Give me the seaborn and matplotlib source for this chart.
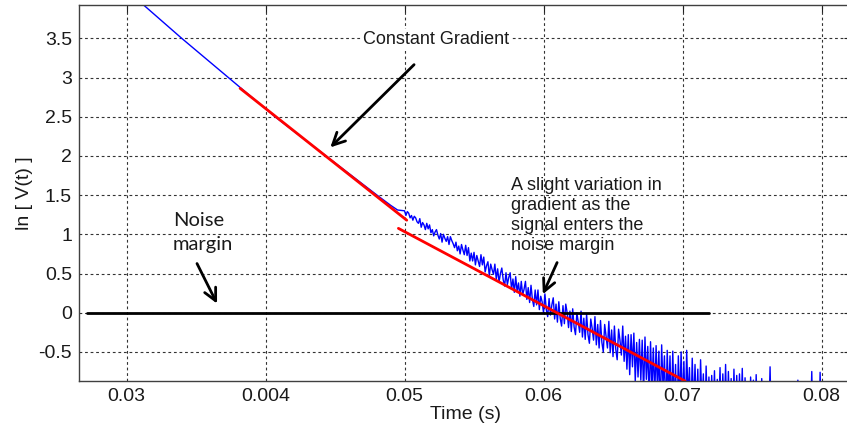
import numpy as np
import pandas as pd
import matplotlib
matplotlib.use("Agg")
import matplotlib.pyplot as plt
import seaborn as sns

# ---------------- data ----------------
# clean part of the measured trace (ln|V|)
clean_t = [0.03100, 0.03397, 0.03732, 0.04068, 0.04435, 0.04802, 0.04900, 0.04950]
clean_y = [3.96, 3.50, 3.00, 2.50, 2.00, 1.50, 1.37, 1.31]

# noisy part, sampled every 0.1 ms from 0.0500 s (one row = 1 ms)
noisy_start = 0.0500
noisy_step = 0.0001
noisy_y = [
    1.30, 1.24, 1.29, 1.27, 1.21, 1.24, 1.18, 1.23, 1.21, 1.16,
    1.14, 1.20, 1.09, 1.15, 1.12, 1.06, 1.14, 1.07, 1.12, 1.02,
    1.06, 0.98, 1.03, 1.06, 0.99, 0.94, 1.01, 0.90, 1.00, 0.95,
    0.91, 0.97, 0.87, 0.97, 0.92, 0.88, 0.83, 0.90, 0.79, 0.85,
    0.75, 0.87, 0.80, 0.74, 0.86, 0.73, 0.83, 0.66, 0.76, 0.66,
    0.77, 0.61, 0.73, 0.66, 0.59, 0.74, 0.61, 0.71, 0.52, 0.60,
    0.65, 0.47, 0.62, 0.55, 0.49, 0.62, 0.43, 0.56, 0.39, 0.50,
    0.57, 0.42, 0.34, 0.51, 0.36, 0.45, 0.51, 0.30, 0.43, 0.26,
    0.46, 0.27, 0.38, 0.21, 0.40, 0.23, 0.30, 0.40, 0.17, 0.32,
    0.13, 0.35, 0.17, 0.08, 0.29, 0.10, 0.29, 0.04, 0.21, 0.14,
    0.00, 0.24, 0.04, -0.05, 0.18, -0.03, 0.10, 0.19, -0.08, 0.11,
    -0.12, 0.14, -0.07, -0.17, 0.09, -0.14, 0.11, 0.00, -0.19, 0.02,
    -0.24, 0.05, -0.18, -0.28, 0.00, -0.12, -0.25, 0.02, -0.31, -0.07,
    -0.34, -0.02, -0.28, -0.39, -0.08, -0.20, -0.35, -0.05, -0.41, -0.15,
    -0.45, -0.10, -0.38, -0.50, -0.15, -0.30, -0.45, -0.11, -0.51, -0.22,
    -0.56, -0.17, -0.47, -0.60, -0.21, -0.35, -0.54, -0.17, -0.62, -0.30,
    -0.72, -0.28, -0.79, -0.28, -0.69, -0.26, -0.87, -0.38, -0.82, -0.34,
    -0.86, -0.35, -1.03, -0.31, -0.85, -0.43, -1.12, -0.37, -0.99, -0.45,
    -1.06, -0.42, -0.98, -0.49, -1.25, -0.41, -0.97, -0.55, -1.34, -0.48,
    -1.11, -0.55, -1.28, -0.49, -1.20, -0.66, -1.47, -0.55, -1.14, -0.50,
    -1.20, -0.62, -1.35, -0.48, -1.10, -0.70, -1.40, -0.58, -1.25, -0.66,
    -1.30, -0.72, -1.45, -0.60, -1.20, -0.78, -1.50, -0.68, -1.35, -0.82,
    -1.40, -0.80, -1.30, -0.74, -1.55, -0.85, -1.25, -0.70, -1.45, -0.78,
    -1.35, -0.66, -1.50, -0.75, -1.30, -0.84, -1.60, -0.72, -1.40, -0.80,
    -1.45, -0.78, -1.35, -0.71, -1.55, -0.83, -1.40, -0.90, -1.50, -0.82,
    -1.30, -0.86, -1.55, -0.79, -1.40, -0.95, -1.60, -0.84, -1.35, -0.98,
    -1.50, -0.92, -1.40, -0.69, -1.60, -1.00, -1.45, -0.88, -1.55, -1.05,
    -1.40, -0.95, -1.65, -1.10, -1.50, -0.90, -1.45, -1.20, -1.60, -0.97,
    -1.55, -1.05, -1.45, -0.86, -1.60, -1.10, -1.40, -1.00, -1.65, -0.94,
    -1.50, -1.10, -1.45, -0.75, -1.60, -1.05, -1.40, -0.98, -1.55, -0.76,
    -1.45, -1.00, -1.60, -1.12, -1.40, -0.92, -1.55, -1.08, -1.45, -0.95,
]

# fitted gradient lines (red)
fit1_t = [0.03817, 0.05016]
fit1_y = [2.862, 1.18]
fit2_t = [0.04956, 0.07018]
fit2_y = [1.076, -0.871]

# noise margin (black)
margin_t = [0.02718, 0.07191]
margin_y = [0.0, 0.0]

x_ticks = [0.03, 0.04, 0.05, 0.06, 0.07, 0.08]
x_tick_labels = ["0.03", "0.004", "0.05", "0.06", "0.07", "0.08"]
y_ticks = [-0.5, 0, 0.5, 1, 1.5, 2, 2.5, 3, 3.5]
y_tick_labels = ["-0.5", "0", "0.5", "1", "1.5", "2", "2.5", "3", "3.5"]

# ---------------- figure ----------------
sns.set_style("white")
plt.rcParams["font.family"] = ["Liberation Sans", "DejaVu Sans"]

W, H = 847, 437
fig = plt.figure(figsize=(W / 100, H / 100), dpi=100)
ax = fig.add_axes([79 / W, (H - 381) / H, (851 - 79) / W, (381 - 5) / H])

noisy_t = [round(noisy_start + i * noisy_step, 4) for i in range(len(noisy_y))]
trace = pd.DataFrame({"t": clean_t + noisy_t, "v": clean_y + noisy_y})

sns.lineplot(data=trace, x="t", y="v", ax=ax, color="#0000ff", lw=1.0,
             sort=False, estimator=None)
sns.lineplot(x=margin_t, y=margin_y, ax=ax, color="black", lw=2.0,
             sort=False, estimator=None)
sns.lineplot(x=fit1_t, y=fit1_y, ax=ax, color="#ff0000", lw=2.0,
             sort=False, estimator=None)
sns.lineplot(x=fit2_t, y=fit2_y, ax=ax, color="#ff0000", lw=2.0,
             sort=False, estimator=None)

ax.set_xlim(0.02658, 0.03 + (851 - 126.5) / 13900)
ax.set_ylim(-0.871, 3.925)
ax.set_xticks(x_ticks)
ax.set_xticklabels(x_tick_labels)
ax.set_yticks(y_ticks)
ax.set_yticklabels(y_tick_labels)

ax.grid(True, color="#333333", linestyle=(0, (2.5, 2.5)), lw=0.8)
ax.set_axisbelow(True)
for s in ax.spines.values():
    s.set_color("#404040")
    s.set_linewidth(1.0)
ax.tick_params(axis="both", direction="in", length=5, width=0.8,
               labelsize=14, colors="#202020", top=True, right=True, pad=5)
ax.tick_params(axis="both", labelcolor="#1a1a1a")

ax.set_xlabel("Time (s)", fontsize=14, labelpad=1, color="#1a1a1a")
ax.set_ylabel("ln [ V(t) ]", fontsize=14, labelpad=4, color="#1a1a1a")

# ---------------- annotations ----------------
ax.text(0.04699, 3.48, "Constant Gradient", fontsize=13, ha="left", va="center",
        color="#1a1a1a", bbox=dict(facecolor="white", edgecolor="none", pad=1.5))
ax.annotate("", xy=(0.04452, 2.084), xytext=(0.05083, 3.189),
            arrowprops=dict(arrowstyle="->", lw=2, color="black", mutation_scale=22))

ax.text(0.03332, 1.02, "Noise\nmargin", fontsize=14.5, ha="left", va="center",
        family=["Lato", "DejaVu Sans"], linespacing=1.5, color="#1a1a1a")
ax.annotate("", xy=(0.0366, 0.085), xytext=(0.03498, 0.659),
            arrowprops=dict(arrowstyle="->", lw=2, color="black", mutation_scale=22))

ax.text(0.05764, 1.24, "A slight variation in\ngradient as the\nsignal enters the\nnoise margin",
        fontsize=13, ha="left", va="center", linespacing=1.25, color="#1a1a1a")
ax.annotate("", xy=(0.05987, 0.204), xytext=(0.06106, 0.672),
            arrowprops=dict(arrowstyle="->", lw=2, color="black", mutation_scale=22))

fig.savefig("out.png", dpi=100)
